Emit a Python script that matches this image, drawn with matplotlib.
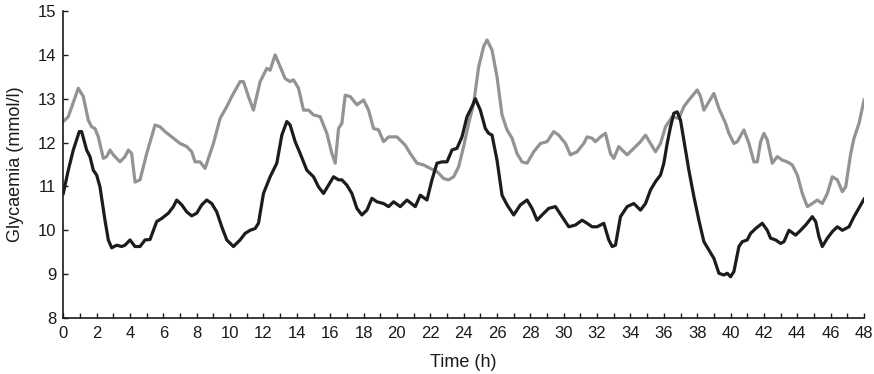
import matplotlib
matplotlib.use("Agg")
import matplotlib.pyplot as plt
from matplotlib.ticker import MultipleLocator

# gray trace (upper series)
gray_t = [0, 0.3, 0.9, 1.2, 1.5, 1.7, 1.9, 2.1, 2.4, 2.6, 2.8, 3.0, 3.4, 3.7, 3.9, 4.1, 4.3, 4.6,
          5.0, 5.5, 5.8, 6.1, 6.6, 7.0, 7.4, 7.7, 7.9, 8.2, 8.5, 9.0, 9.4, 9.8, 10.1, 10.6, 10.8,
          11.1, 11.4, 11.8, 12.2, 12.4, 12.7, 13.0, 13.3, 13.6, 13.8, 14.1, 14.4, 14.7, 15.0, 15.4,
          15.8, 16.1, 16.3, 16.5, 16.7, 16.9, 17.2, 17.6, 18.0, 18.3, 18.6, 18.9, 19.2, 19.5, 20.0,
          20.5, 20.8, 21.2, 21.6, 22.0, 22.4, 22.8, 23.1, 23.4, 23.7, 24.0, 24.3, 24.6, 24.9, 25.2,
          25.4, 25.7, 26.0, 26.3, 26.6, 26.9, 27.2, 27.5, 27.8, 28.2, 28.6, 29.0, 29.4, 29.7, 30.1,
          30.4, 30.8, 31.2, 31.4, 31.7, 31.9, 32.2, 32.5, 32.8, 33.0, 33.3, 33.5, 33.8, 34.2, 34.6,
          34.9, 35.2, 35.5, 35.8, 36.1, 36.5, 36.9, 37.2, 37.5, 38.0, 38.2, 38.4, 38.7, 39.0, 39.3,
          39.7, 39.9, 40.2, 40.4, 40.8, 41.1, 41.4, 41.6, 41.8, 42.0, 42.2, 42.5, 42.8, 43.1, 43.4,
          43.7, 44.0, 44.3, 44.6, 44.9, 45.2, 45.5, 45.8, 46.1, 46.4, 46.7, 46.9, 47.2, 47.4, 47.7,
          48.0]
gray_v = [12.48, 12.59, 13.24, 13.05, 12.51, 12.36, 12.32, 12.13, 11.64, 11.68, 11.83, 11.72, 11.56,
          11.68, 11.83, 11.75, 11.1, 11.15, 11.75, 12.4, 12.36, 12.25, 12.1, 11.98, 11.91, 11.79,
          11.56, 11.56, 11.41, 11.98, 12.55, 12.82, 13.05, 13.39, 13.39, 13.05, 12.74, 13.39, 13.69,
          13.65, 14.0, 13.73, 13.46, 13.39, 13.43, 13.24, 12.74, 12.74, 12.63, 12.59, 12.21, 11.75,
          11.53, 12.32, 12.44, 13.08, 13.05, 12.86, 12.97, 12.74, 12.32, 12.29, 12.02, 12.13, 12.13,
          11.94, 11.75, 11.53, 11.49, 11.41, 11.34, 11.18, 11.15, 11.22, 11.45, 11.91, 12.44, 12.89,
          13.73, 14.19, 14.34, 14.11, 13.5, 12.63, 12.29, 12.1, 11.75, 11.56, 11.53, 11.79, 11.98,
          12.02, 12.25, 12.17, 11.98, 11.72, 11.79, 11.98, 12.13, 12.1, 12.02, 12.13, 12.21, 11.75,
          11.64, 11.91, 11.83, 11.72, 11.87, 12.02, 12.17, 11.98, 11.79, 11.98, 12.36, 12.59, 12.55,
          12.82, 12.97, 13.2, 13.05, 12.74, 12.93, 13.12, 12.78, 12.44, 12.21, 11.98, 12.02, 12.29,
          11.98, 11.56, 11.56, 12.02, 12.21, 12.06, 11.53, 11.68, 11.6, 11.56, 11.49, 11.26, 10.84,
          10.54, 10.61, 10.69, 10.61, 10.84, 11.22, 11.15, 10.88, 10.99, 11.75, 12.1, 12.44, 12.97]

# black trace (lower series)
black_t = [0, 0.3, 0.6, 0.96, 1.1, 1.4, 1.6, 1.8, 2.0, 2.2, 2.5, 2.7, 2.9, 3.2, 3.5, 3.7, 4.0, 4.3,
           4.6, 4.9, 5.2, 5.6, 5.9, 6.3, 6.6, 6.8, 7.1, 7.4, 7.7, 8.0, 8.3, 8.6, 8.9, 9.2, 9.5, 9.8,
           10.2, 10.6, 10.9, 11.2, 11.5, 11.7, 12.0, 12.4, 12.8, 13.1, 13.4, 13.6, 13.9, 14.2, 14.6,
           15.0, 15.3, 15.6, 15.9, 16.2, 16.5, 16.7, 17.0, 17.3, 17.6, 17.9, 18.2, 18.5, 18.8, 19.2,
           19.5, 19.8, 20.2, 20.6, 21.1, 21.4, 21.8, 22.1, 22.4, 22.7, 23.0, 23.3, 23.6, 23.9, 24.2,
           24.5, 24.7, 25.0, 25.3, 25.5, 25.7, 26.0, 26.3, 26.6, 27.0, 27.4, 27.8, 28.1, 28.4, 28.7,
           29.1, 29.5, 29.9, 30.3, 30.7, 31.1, 31.4, 31.7, 32.0, 32.4, 32.7, 32.9, 33.1, 33.4, 33.8,
           34.2, 34.6, 34.9, 35.2, 35.5, 35.8, 36.0, 36.2, 36.4, 36.6, 36.8, 37.0, 37.2, 37.5, 37.8,
           38.1, 38.4, 38.7, 39.0, 39.3, 39.6, 39.8, 40.0, 40.2, 40.5, 40.7, 41.0, 41.2, 41.5, 41.9,
           42.2, 42.4, 42.7, 43.0, 43.2, 43.5, 43.9, 44.2, 44.5, 44.9, 45.1, 45.3, 45.5, 45.8, 46.1,
           46.4, 46.7, 47.1, 47.4, 47.8, 48.0]
black_v = [10.84, 11.37, 11.83, 12.25, 12.25, 11.83, 11.68, 11.37, 11.26, 10.99, 10.23, 9.78, 9.6,
           9.66, 9.63, 9.66, 9.78, 9.63, 9.63, 9.78, 9.79, 10.2, 10.27, 10.39, 10.54, 10.69, 10.58,
           10.42, 10.33, 10.39, 10.58, 10.69, 10.61, 10.42, 10.08, 9.78, 9.63, 9.78, 9.93, 10.0,
           10.04, 10.16, 10.84, 11.22, 11.53, 12.17, 12.48, 12.4, 12.02, 11.75, 11.37, 11.22, 10.99,
           10.84, 11.03, 11.22, 11.15, 11.15, 11.03, 10.84, 10.5, 10.35, 10.46, 10.73, 10.65, 10.61,
           10.54, 10.65, 10.54, 10.69, 10.54, 10.8, 10.69, 11.15, 11.53, 11.56, 11.56, 11.83, 11.87,
           12.13, 12.59, 12.82, 13.0, 12.74, 12.32, 12.21, 12.17, 11.6, 10.8, 10.58, 10.35, 10.58,
           10.69, 10.5, 10.23, 10.35, 10.5, 10.54, 10.31, 10.08, 10.12, 10.23, 10.16, 10.08, 10.08,
           10.16, 9.78, 9.63, 9.66, 10.31, 10.54, 10.61, 10.46, 10.61, 10.92, 11.11, 11.26, 11.53,
           11.98, 12.36, 12.67, 12.7, 12.51, 12.06, 11.37, 10.77, 10.23, 9.74, 9.55, 9.36, 9.02, 8.98,
           9.02, 8.94, 9.06, 9.63, 9.74, 9.78, 9.93, 10.04, 10.16, 10.0, 9.82, 9.78, 9.7, 9.74, 10.0,
           9.89, 10.0, 10.12, 10.31, 10.2, 9.85, 9.63, 9.82, 9.97, 10.08, 10.0, 10.08, 10.31, 10.58,
           10.71]

plt.rcParams['font.family'] = ['Liberation Sans', 'DejaVu Sans']

fig = plt.figure(figsize=(8.74, 3.74), dpi=100)
ax = fig.add_axes([0.0724, 0.1497, 0.9162, 0.8209])

ax.plot(gray_t, gray_v, color='#939393', lw=2.3, solid_joinstyle='round')
ax.plot(black_t, black_v, color='#1c1c1c', lw=2.3, solid_joinstyle='round')

ax.set_xlim(0, 48)
ax.set_ylim(8, 15)
ax.xaxis.set_major_locator(MultipleLocator(2))
ax.xaxis.set_minor_locator(MultipleLocator(1))
ax.yaxis.set_major_locator(MultipleLocator(1))
ax.tick_params(axis='both', which='both', direction='in', length=3.5, width=1,
               labelsize=12, colors='#1a1a1a')
ax.tick_params(axis='x', which='major', pad=6)
ax.tick_params(axis='y', which='major', pad=5)
ax.xaxis.set_minor_formatter(plt.NullFormatter())

for s in ['top', 'right']:
    ax.spines[s].set_visible(False)
for s in ['left', 'bottom']:
    ax.spines[s].set_linewidth(1.2)
    ax.spines[s].set_color('#1a1a1a')

ax.set_xlabel('Time (h)', fontsize=13, color='#1a1a1a', labelpad=9)
ax.set_ylabel('Glycaemia (mmol/l)', fontsize=13, color='#1a1a1a', labelpad=10)

fig.savefig('out.png', dpi=100)
